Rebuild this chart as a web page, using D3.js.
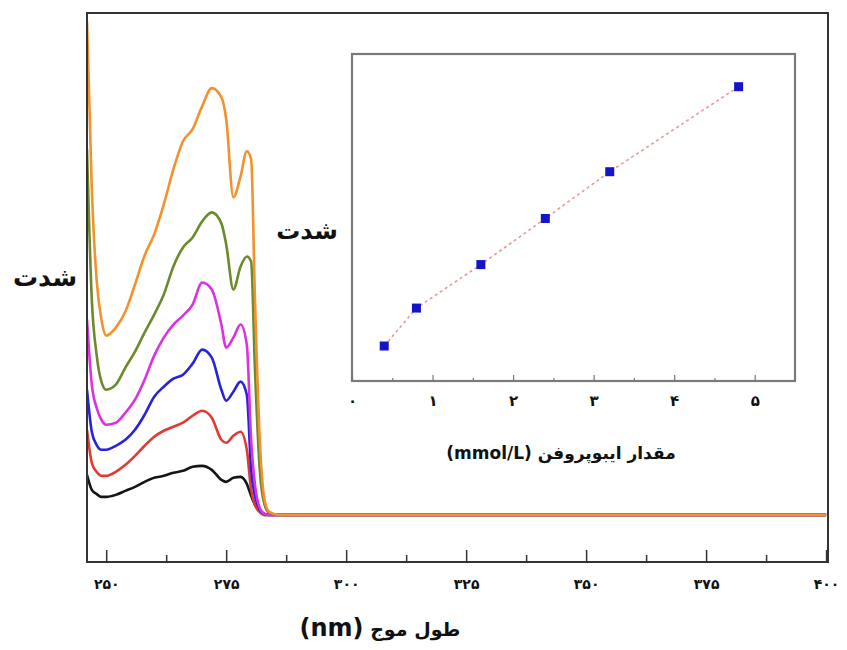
<!DOCTYPE html>
<html><head><meta charset="utf-8">
<script src="https://cdn.jsdelivr.net/npm/d3@7/dist/d3.min.js"></script>
<style>
body{margin:0;background:#fff;}
text{font-family:"DejaVu Sans",sans-serif;font-weight:bold;fill:#111;}
</style></head>
<body>
<svg id="chart" width="847" height="650"></svg>
<script>
// ---------- DATA ----------
const wavelengths = [246, 247, 248, 249, 250, 252, 254, 256, 258, 260, 262, 264, 266, 268, 270, 272, 274, 275, 276.5, 278, 279.3, 280.2, 281, 282, 283, 284, 286, 300, 400];
const orangeSeries  = [98.6, 65, 47, 39, 35.8, 37.4, 40.6, 46, 51.8, 56, 62, 69, 74.6, 77, 81.6, 85.2, 83.4, 79, 63.4, 67.6, 72.6, 71, 43, 15, 3, 0.6, 0, 0, 0];
const greenSeries   = [73, 43, 32, 26.6, 25, 26, 29.4, 32.6, 36.4, 40, 44, 49.6, 53.4, 55.4, 58.6, 60.4, 58.2, 54, 45, 49.6, 51.6, 50.6, 29, 9, 2, 0.4, 0, 0, 0];
const magentaSeries = [39, 26, 21.4, 19, 18, 18.4, 20.4, 23, 27, 31.8, 35.4, 38, 39.8, 42, 46.4, 45, 38, 33.4, 35.4, 38, 34, 15, 6, 1.4, 0.2, 0, 0, 0, 0];
const blueSeries    = [25, 16.6, 14, 13, 13, 13.8, 15, 17, 20, 23.6, 25.6, 27.2, 28, 30.2, 33, 31.4, 25, 22.8, 24.6, 26.6, 24, 9, 3.8, 1, 0.2, 0, 0, 0, 0];
const redSeries     = [17, 10.4, 8.6, 7.8, 7.8, 8.6, 10, 11.8, 13.8, 15.6, 16.8, 17.6, 18.4, 19.8, 20.8, 19.4, 15, 14.4, 15.8, 16.6, 13, 5, 2, 0.6, 0, 0, 0, 0, 0];
const blackSeries   = [8, 5, 4.2, 3.6, 3.6, 4, 4.8, 5.6, 6.6, 7.4, 7.8, 8.4, 8.8, 9.6, 9.8, 9, 7, 6.6, 7.4, 7.6, 6.2, 3.8, 2, 0.6, 0, 0, 0, 0, 0];

const mainTicks = [250, 275, 300, 325, 350, 375, 400];
const mainTickLabels = ["۲۵۰", "۲۷۵", "۳۰۰", "۳۲۵", "۳۵۰", "۳۷۵", "۴۰۰"];
const mainMinorTicks = [262.5, 287.5, 312.5, 337.5, 362.5, 387.5];

const concentration = [0.4, 0.8, 1.6, 2.4, 3.2, 4.8];
const insetIntensity = [10.7, 22.3, 35.6, 49.7, 64.0, 90.0];
const insetTicks = [0, 1, 2, 3, 4, 5];
const insetTickLabels = ["۰", "۱", "۲", "۳", "۴", "۵"];
const insetMinorTicks = [0.5, 1.5, 2.5, 3.5, 4.5];

const yLabel = "شدت";
const xLabelFa = "طول موج ";
const xLabelUnit = "(nm)";
const insetXLabel = "مقدار ایبوپروفن (mmol/L)";

// ---------- LAYOUT ----------
const svg = d3.select("#chart");
const M = {left: 87, right: 828, top: 13, bottom: 562};
const x = d3.scaleLinear().domain([246, 400.4]).range([M.left, M.right]);
const y = d3.scaleLinear().domain([-9.4, 100.2]).range([M.bottom, M.top]);

const series = [
  {vals: blackSeries,   color: "#151515"},
  {vals: redSeries,     color: "#e23a33"},
  {vals: blueSeries,    color: "#2424dc"},
  {vals: magentaSeries, color: "#dd30e0"},
  {vals: greenSeries,   color: "#6b8a2c"},
  {vals: orangeSeries,  color: "#f3922c"}
];

const clip = svg.append("clipPath").attr("id","clipMain").append("rect")
  .attr("x", M.left).attr("y", M.top).attr("width", M.right-M.left).attr("height", M.bottom-M.top);

const line = d3.line().x((d,i)=>x(wavelengths[i])).y(d=>y(d)).curve(d3.curveMonotoneX);
const g = svg.append("g").attr("clip-path","url(#clipMain)");
series.forEach(s=>{
  g.append("path").attr("d", line(s.vals)).attr("fill","none")
    .attr("stroke", s.color).attr("stroke-width", 2.6).attr("stroke-linejoin","round");
});

// frame
svg.append("rect").attr("x", M.left).attr("y", M.top).attr("width", M.right-M.left).attr("height", M.bottom-M.top)
  .attr("fill","none").attr("stroke","#333").attr("stroke-width",2);

// bottom axis (ticks inward)
const xAxis = d3.axisBottom(x).tickValues(mainTicks).tickSize(-12).tickPadding(14)
  .tickFormat((d,i)=>mainTickLabels[i]);
const ax = svg.append("g").attr("transform",`translate(0,${M.bottom})`).call(xAxis);
ax.select(".domain").remove();
ax.selectAll("line").attr("stroke","#333").attr("stroke-width",1.5);
ax.selectAll("text").attr("font-size",14).attr("fill","#222").attr("dy","0.9em");
const axm = svg.append("g").attr("transform",`translate(0,${M.bottom})`)
  .call(d3.axisBottom(x).tickValues(mainMinorTicks).tickSize(-7).tickFormat(""));
axm.select(".domain").remove();
axm.selectAll("line").attr("stroke","#333").attr("stroke-width",1.5);

// axis titles
svg.append("text").attr("x", 45).attr("y", 279).attr("text-anchor","middle").attr("dominant-baseline","middle")
  .attr("font-size", 25).attr("direction","rtl").text(yLabel);
const xt = svg.append("text").attr("x", 380).attr("y", 636).attr("text-anchor","middle")
  .attr("direction","rtl");
xt.append("tspan").attr("font-size", 19).text(xLabelFa);
xt.append("tspan").attr("font-size", 24).text(xLabelUnit);

// ---------- INSET ----------
const I = {left: 352, right: 795, top: 54, bottom: 381};
const xi = d3.scaleLinear().domain([0, 5.5]).range([I.left, I.right]);
const yi = d3.scaleLinear().domain([0, 100]).range([I.bottom, I.top]);

svg.append("rect").attr("x", I.left).attr("y", I.top).attr("width", I.right-I.left).attr("height", I.bottom-I.top)
  .attr("fill","#fff").attr("stroke","#7a7a7a").attr("stroke-width",2.2);

const ia = svg.append("g").attr("transform",`translate(0,${I.bottom})`)
  .call(d3.axisBottom(xi).tickValues(insetTicks).tickSize(-6).tickPadding(14).tickFormat((d,i)=>insetTickLabels[i]));
ia.select(".domain").remove();
ia.selectAll("line").attr("stroke","#777").attr("stroke-width",1.2);
ia.selectAll("text").attr("font-size",15).attr("fill","#222").attr("dy","0.75em");
const iam = svg.append("g").attr("transform",`translate(0,${I.bottom})`)
  .call(d3.axisBottom(xi).tickValues(insetMinorTicks).tickSize(-3).tickFormat(""));
iam.select(".domain").remove();
iam.selectAll("line").attr("stroke","#777").attr("stroke-width",1.2);

const pts = concentration.map((c,i)=>[c, insetIntensity[i]]);
svg.append("path").attr("d", d3.line().x(d=>xi(d[0])).y(d=>yi(d[1]))(pts))
  .attr("fill","none").attr("stroke","#e89a9a").attr("stroke-width",1.6).attr("stroke-dasharray","3,3");
svg.selectAll(".pt").data(pts).enter().append("rect")
  .attr("x", d=>xi(d[0])-4.5).attr("y", d=>yi(d[1])-4.5).attr("width",9).attr("height",9)
  .attr("fill","#1414c8");

svg.append("text").attr("x", 307).attr("y", 232).attr("text-anchor","middle").attr("dominant-baseline","middle")
  .attr("font-size", 24).attr("direction","rtl").text(yLabel);
svg.append("text").attr("x", 561).attr("y", 459).attr("text-anchor","middle").attr("direction","rtl")
  .attr("font-size", 17).text(insetXLabel);
</script>
</body></html>
